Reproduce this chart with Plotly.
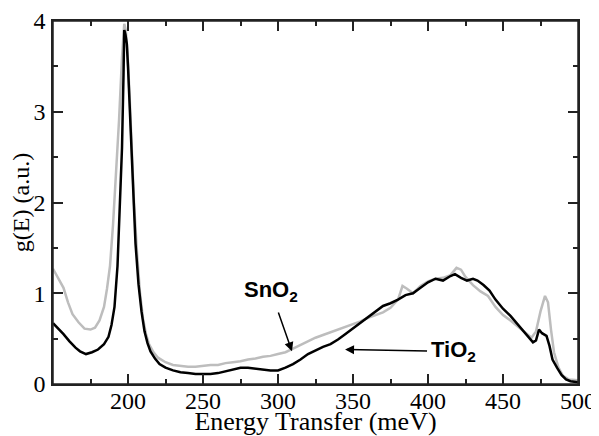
import plotly.graph_objects as go

# TiO2 (black) spectrum
tio2_E = [150, 153, 157, 161, 165, 168, 172, 176, 180, 184, 187, 189, 191, 193, 194.5, 196, 197, 197.5,
          198.3, 199.2, 200, 201.5, 203, 205, 207, 209, 211, 213, 215, 218, 221, 225, 230, 235, 240, 245,
          250, 255, 260, 265, 270, 275, 280, 285, 290, 295, 300, 305, 310, 315, 320, 325, 330, 335, 340,
          345, 350, 355, 360, 365, 370, 375, 380, 385, 390, 395, 400, 405, 410, 415, 418, 422, 426, 430,
          433, 437, 441, 445, 450, 455, 460, 465, 470, 472, 474, 476, 479, 481, 483, 486, 489, 492, 495, 500]
tio2_g = [0.67, 0.62, 0.55, 0.47, 0.40, 0.36, 0.33, 0.35, 0.38, 0.44, 0.52, 0.65, 0.85, 1.3, 1.9, 2.6, 3.4, 3.9,
          3.85, 3.75, 3.5, 2.9, 2.2, 1.55, 1.1, 0.8, 0.58, 0.45, 0.36, 0.28, 0.22, 0.18, 0.15, 0.13, 0.12, 0.11,
          0.11, 0.11, 0.12, 0.14, 0.16, 0.18, 0.18, 0.17, 0.16, 0.15, 0.15, 0.18, 0.22, 0.27, 0.33, 0.37, 0.41, 0.44, 0.49,
          0.55, 0.61, 0.67, 0.73, 0.79, 0.86, 0.89, 0.93, 0.98, 1.00, 1.06, 1.12, 1.16, 1.14, 1.19, 1.21, 1.17, 1.14, 1.16,
          1.14, 1.09, 1.03, 0.93, 0.83, 0.75, 0.65, 0.56, 0.46, 0.48, 0.60, 0.56, 0.53, 0.42, 0.27, 0.18, 0.10, 0.05, 0.03, 0.02]

# SnO2 (grey) spectrum
sno2_E = [150, 153, 157, 160, 163, 167, 171, 175, 178, 181, 184, 186, 188, 190, 192, 194, 196, 197.5, 198.5,
          199.5, 201, 202.5, 204, 206, 208, 210, 212, 214, 217, 220, 225, 230, 235, 240, 245, 250, 255, 260,
          265, 270, 275, 280, 285, 290, 295, 300, 305, 310, 315, 320, 325, 330, 335, 340, 345, 350, 355, 360,
          365, 370, 375, 380, 383, 386, 390, 395, 400, 405, 410, 415, 419, 422, 425, 430, 435, 440, 445, 450,
          455, 460, 465, 469, 472, 475, 478, 480, 482, 484, 487, 490, 494, 500]
sno2_g = [1.27, 1.18, 1.06, 0.90, 0.77, 0.68, 0.61, 0.60, 0.62, 0.70, 0.85, 1.05, 1.30, 1.75, 2.3, 2.9, 3.6, 3.97, 3.9,
          3.7, 3.2, 2.6, 2.0, 1.45, 1.0, 0.72, 0.55, 0.44, 0.35, 0.29, 0.24, 0.21, 0.20, 0.19, 0.19, 0.20, 0.21, 0.21,
          0.23, 0.24, 0.25, 0.27, 0.28, 0.30, 0.31, 0.33, 0.35, 0.39, 0.43, 0.47, 0.51, 0.54, 0.57, 0.60, 0.63, 0.66, 0.69, 0.73,
          0.76, 0.79, 0.84, 0.93, 1.08, 1.05, 1.00, 1.08, 1.13, 1.16, 1.17, 1.20, 1.28, 1.26, 1.18, 1.09, 1.02, 0.97, 0.85, 0.76,
          0.70, 0.63, 0.56, 0.51, 0.58, 0.80, 0.97, 0.90, 0.60, 0.35, 0.18, 0.09, 0.05, 0.04]

x_ticks = [200, 250, 300, 350, 400, 450, 500]
y_ticks = [0, 1, 2, 3, 4]

fig = go.Figure()
fig.add_trace(go.Scatter(x=sno2_E, y=sno2_g, mode="lines", name="SnO2",
                         line=dict(color="#bdbdbd", width=2.5)))
fig.add_trace(go.Scatter(x=tio2_E, y=tio2_g, mode="lines", name="TiO2",
                         line=dict(color="black", width=2.5)))

serif = "Liberation Serif, Times New Roman, serif"
axis_common = dict(ticks="inside", ticklen=10, tickwidth=1.5, tickcolor="#222",
                   showline=True, linecolor="#222", linewidth=1.5, mirror="ticks",
                   showgrid=False, zeroline=False, automargin=False)
# the page body adds an 8px margin, so the figure is sized to fit inside it
fig.update_layout(
    width=591, height=428,
    margin=dict(l=45, r=21, t=13, b=52),
    paper_bgcolor="white", plot_bgcolor="white",
    showlegend=False,
    font=dict(family=serif, size=24, color="black"),
    xaxis=dict(range=[150, 500], tickmode="array", tickvals=x_ticks, ticklabelstandoff=-6,
               minor=dict(ticks="inside", ticklen=5, tickwidth=1.5, tickcolor="#222", dtick=25, tick0=150, showgrid=False),
               title=dict(text="Energy Transfer (meV)", font=dict(size=26), standoff=0),
               **axis_common),
    yaxis=dict(range=[0, 4], tickmode="array", tickvals=y_ticks, ticklabelstandoff=1,
               minor=dict(ticks="inside", ticklen=5, tickwidth=1.5, tickcolor="#222", dtick=0.5, tick0=0, showgrid=False),
               title=dict(text="g(E) (a.u.)", font=dict(size=24), standoff=2),
               **axis_common),
)

# plot frame (keeps the top border visible)
fig.add_shape(type="rect", xref="x domain", yref="y domain", x0=0, x1=1, y0=0, y1=1,
              line=dict(color="#222", width=1.5), fillcolor="rgba(0,0,0,0)", layer="above")

sans = "Liberation Sans, Arial, sans-serif"
fig.add_annotation(x=309.3, y=0.36, ax=295.3, ay=1.02, xref="x", yref="y", axref="x", ayref="y",
                   text="<b>SnO<sub>2</sub></b>", font=dict(family=sans, size=22, color="black"),
                   showarrow=True, arrowhead=2, arrowsize=1.2, arrowwidth=1.5, arrowcolor="black",
                   startstandoff=6)
fig.add_annotation(x=344.7, y=0.38, ax=416.7, ay=0.36, xref="x", yref="y", axref="x", ayref="y",
                   text="<b>TiO<sub>2</sub></b>", font=dict(family=sans, size=22, color="black"),
                   showarrow=True, arrowhead=2, arrowsize=1.2, arrowwidth=1.5, arrowcolor="black",
                   startstandoff=2)

fig.write_html("out.html")
